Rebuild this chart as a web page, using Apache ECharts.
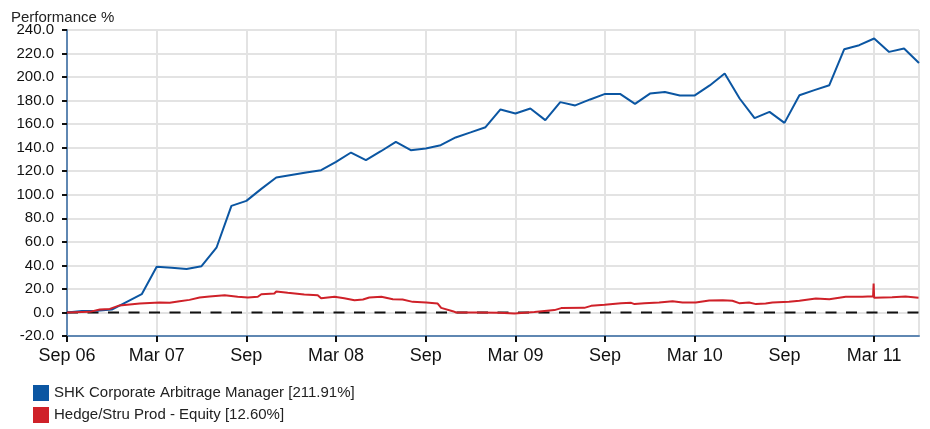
<!DOCTYPE html>
<html>
<head>
<meta charset="utf-8">
<script src="https://cdn.jsdelivr.net/npm/echarts@6/dist/echarts.min.js"></script>
<style>
html,body{margin:0;padding:0;background:#fff;}
#chart{width:930px;height:429px;}
</style>
</head>
<body>
<div id="chart"></div>
<script>
// ---- Data ----
const seriesNames = ['SHK Corporate Arbitrage Manager [211.91%]', 'Hedge/Stru Prod - Equity [12.60%]'];
const xTickLabels = ['Sep 06', 'Mar 07', 'Sep', 'Mar 08', 'Sep', 'Mar 09', 'Sep', 'Mar 10', 'Sep', 'Mar 11'];
const yTickValues = [-20, 0, 20, 40, 60, 80, 100, 120, 140, 160, 180, 200, 220, 240];

// Blue: month-end values, first = end Aug 2006, last = end May 2011
const blueStartMonth = '2006-08';
const blueValues = [
  0, 1.2, 1.4, 2.5, 9, 15.5, 38.8, 38, 37, 39.3,
  55, 90.6, 94.8, 105, 114.7, 116.8, 118.9, 120.9, 128, 135.9,
  129.4, 137, 145, 137.9, 139.3, 142.1, 148.7, 153, 157.4, 172.5,
  169.1, 173.3, 163.4, 178.7, 175.9, 181, 185.7, 185.7, 177.2, 186,
  187.4, 184.4, 184.4, 192.9, 203.0, 181.8, 165.1, 170.4, 161.1, 184.6,
  188.9, 193.1, 223.7, 227.1, 232.8, 221.4, 224.3, 211.91
];

// Red: dated values
const redDates = [
  '2006-09-01','2006-10-17','2006-11-07','2006-11-27','2006-12-17','2007-01-28','2007-03-07','2007-03-28','2007-04-17','2007-05-07',
  '2007-05-28','2007-06-17','2007-07-18','2007-08-14','2007-09-04','2007-09-24','2007-10-01','2007-10-28','2007-11-01','2007-11-24',
  '2007-12-28','2008-01-25','2008-02-01','2008-02-27','2008-03-18','2008-04-08','2008-04-25','2008-05-08','2008-06-02','2008-06-25',
  '2008-07-15','2008-08-05','2008-09-02','2008-09-25','2008-10-02','2008-10-26','2008-11-02','2008-12-13','2009-01-30','2009-02-27',
  '2009-04-09','2009-05-20','2009-06-03','2009-07-20','2009-08-03','2009-08-31','2009-10-03','2009-10-24','2009-10-31','2009-11-20',
  '2009-12-20','2010-01-17','2010-02-06','2010-03-03','2010-03-31','2010-04-27','2010-05-17','2010-05-31','2010-06-20','2010-07-04',
  '2010-07-24','2010-08-07','2010-09-10','2010-10-01','2010-11-04','2010-12-01','2011-01-04','2011-02-07','2011-02-27','2011-02-28',
  '2011-03-01','2011-03-04','2011-04-07','2011-05-04','2011-05-31'
];
const redValues = [
  0, 0.5, 2.5, 3, 6, 7.6, 8.5, 8.2, 9.6, 10.7,
  12.7, 13.5, 14.7, 13.3, 12.7, 13.3, 15.5, 16.1, 17.8, 16.7,
  15.3, 14.7, 12.1, 13.3, 12.1, 10.4, 11, 12.7, 13.3, 11.3,
  11, 9, 8.5, 7.6, 3.9, 1.1, 0, 0, -0.3, -0.9,
  0.3, 2, 3.7, 3.9, 5.6, 6.5, 7.9, 8.2, 7.1, 7.9,
  8.5, 9.6, 8.5, 8.5, 10.2, 10.4, 9.9, 7.9, 8.5, 7.1,
  7.6, 8.5, 9, 9.9, 11.9, 11.3, 13.3, 13.3, 13.8, 24.6,
  12.4, 12.4, 13.0, 13.6, 12.6
];
const zeroLineValue = 0;

// ---- Helpers: months since 2006-09-01 ----
const baseYear = 2006, baseMonth = 9;
function monthsFromDate(s) {
  const [y, m, d] = s.split('-').map(Number);
  const dim = new Date(y, m, 0).getDate();
  return (y - baseYear) * 12 + (m - baseMonth) + (d - 1) / dim;
}
function monthEndIndex(startYm, i) {
  const [y, m] = startYm.split('-').map(Number);
  return (y - baseYear) * 12 + (m - baseMonth) + 1 + i;
}

const blueData = blueValues.map((v, i) => [monthEndIndex(blueStartMonth, i), v]);
const redData = redValues.map((v, i) => [monthsFromDate(redDates[i]), v]);
const xMin = 0;
const xMax = monthEndIndex(blueStartMonth, blueValues.length - 1);

const font = "'Liberation Sans', Arial, sans-serif";
const chart = echarts.init(document.getElementById('chart'), null, {renderer: 'canvas'});
chart.setOption({
  animation: false,
  backgroundColor: '#fff',
  title: {
    text: 'Performance %',
    left: 11, top: 10, padding: 0,
    textStyle: {fontFamily: font, fontSize: 15, fontWeight: 'normal', color: '#222'}
  },
  legend: {
    data: seriesNames,
    orient: 'vertical',
    left: 33, top: 385, padding: 0,
    width: 500, height: 60,
    itemWidth: 16, itemHeight: 16, itemGap: 6,
    icon: 'rect',
    textStyle: {fontFamily: font, fontSize: 15, color: '#222'}
  },
  grid: {left: 67, right: 11, top: 30, bottom: 93, containLabel: false},
  xAxis: {
    type: 'value',
    min: xMin, max: xMax, interval: 6,
    axisLine: {show: true, onZero: false, lineStyle: {color: '#5f87b2', width: 2}},
    axisTick: {show: true, length: 6, lineStyle: {color: '#111', width: 2}},
    splitLine: {show: true, lineStyle: {color: '#e3e3e3', width: 2}},
    axisLabel: {
      fontFamily: font, fontSize: 18, color: '#111', margin: 11,
      showMaxLabel: false,
      formatter: function (v) {
        const r = Math.round(v);
        if (Math.abs(v - r) > 1e-6 || r % 6 !== 0) return '';
        return xTickLabels[r / 6] || '';
      }
    }
  },
  yAxis: {
    type: 'value',
    min: yTickValues[0], max: yTickValues[yTickValues.length - 1], interval: 20,
    axisLine: {show: true, onZero: false, lineStyle: {color: '#5f87b2', width: 2}},
    axisTick: {show: true, length: 5, lineStyle: {color: '#111', width: 2}},
    splitLine: {show: true, lineStyle: {color: '#e3e3e3', width: 2}},
    axisLabel: {
      fontFamily: font, fontSize: 15, color: '#111', margin: 13,
      formatter: v => v.toFixed(1)
    }
  },
  series: [
    {
      name: 'zero', type: 'line', z: 1, silent: true, symbol: 'none',
      data: [[xMin, zeroLineValue], [xMax, zeroLineValue]],
      lineStyle: {color: '#111', width: 2, type: [11, 9.5]}
    },
    {
      name: seriesNames[0], type: 'line', z: 3, symbol: 'none',
      data: blueData,
      color: '#0b56a2',
      lineStyle: {color: '#0b56a2', width: 2}
    },
    {
      name: seriesNames[1], type: 'line', z: 4, symbol: 'none',
      data: redData,
      color: '#cf2129',
      lineStyle: {color: '#cf2129', width: 2}
    }
  ]
});
</script>
</body>
</html>
